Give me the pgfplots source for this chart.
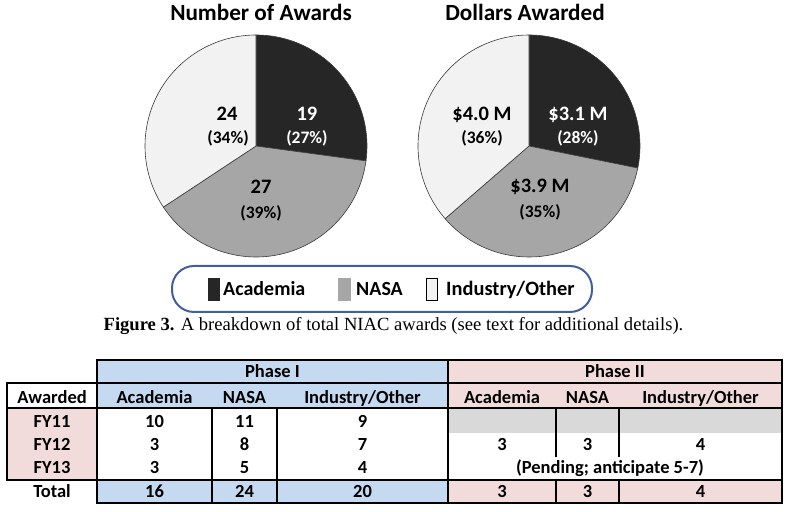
\documentclass[border=0pt]{standalone}
\usepackage{fontspec}
\setmainfont{Carlito}
\newfontfamily\capfont{Liberation Serif}
\usepackage{pgfplots}
\usepackage{pgfplotstable}
\pgfplotsset{compat=1.18}

\definecolor{acad}{HTML}{262626}
\definecolor{nasa}{HTML}{A6A6A6}
\definecolor{indu}{HTML}{F2F2F2}
\definecolor{pieedge}{HTML}{3A3A3A}
\definecolor{legedge}{HTML}{41609A}
\definecolor{phaseone}{HTML}{C5D9F1}
\definecolor{phasetwo}{HTML}{F2DCDB}
\definecolor{pendgray}{HTML}{D9D9D9}

% pie data
\pgfplotstableread{
name     value
Academia 19
NASA     27
Industry 24
}\awards
\pgfplotstableread{
name     value
Academia 3.1
NASA     3.9
Industry 4.0
}\dollars

% slice boundaries, clockwise from 12 o'clock
\newcommand\pieangles[1]{%
  \pgfplotstablegetelem{0}{value}\of#1\let\va\pgfplotsretval
  \pgfplotstablegetelem{1}{value}\of#1\let\vb\pgfplotsretval
  \pgfplotstablegetelem{2}{value}\of#1\let\vc\pgfplotsretval
  \pgfmathsetmacro\vt{\va+\vb+\vc}%
  \pgfmathsetmacro\angA{90-360*\va/\vt}%
  \pgfmathsetmacro\angB{\angA-360*\vb/\vt}%
}
\newcommand\drawpie{%
  \filldraw[acad,draw=pieedge,line width=0.6bp] (axis cs:0,0) -- ++(90:111bp)
    arc[start angle=90,end angle=\angA,radius=111bp] -- cycle;
  \filldraw[nasa,draw=pieedge,line width=0.6bp] (axis cs:0,0) -- ++(\angA:111bp)
    arc[start angle=\angA,end angle=\angB,radius=111bp] -- cycle;
  \filldraw[indu,draw=pieedge,line width=0.6bp] (axis cs:0,0) -- ++(\angB:111bp)
    arc[start angle=\angB,end angle=-270,radius=111bp] -- cycle;
}
\pgfplotsset{pie/.style={width=222bp,height=222bp,scale only axis,
  xmin=-1,xmax=1,ymin=-1,ymax=1,hide axis,clip=false,anchor=center}}

\newcommand\lblbig{\fontsize{20.5bp}{24bp}\selectfont\bfseries}
\newcommand\lblpct{\fontsize{17.5bp}{20bp}\selectfont\bfseries}
\newcommand\tabf{\fontsize{18.5bp}{20bp}\selectfont\bfseries}

\begin{document}
\begin{tikzpicture}

\pieangles{\awards}
\begin{axis}[pie,at={(256bp,366bp)}]
  \drawpie
  \node[anchor=base,text=white] at (axis cs:0.459,0.234) {\lblbig 19};
  \node[anchor=base,text=white] at (axis cs:0.459,0.018) {\lblpct (27\%)};
  \node[anchor=base] at (axis cs:-0.261,0.234) {\lblbig 24};
  \node[anchor=base] at (axis cs:-0.252,0.018) {\lblpct (34\%)};
  \node[anchor=base] at (axis cs:0.045,-0.432) {\lblbig 27};
  \node[anchor=base] at (axis cs:0.045,-0.649) {\lblpct (39\%)};
\end{axis}

\pieangles{\dollars}
\begin{axis}[pie,at={(529bp,366bp)}]
  \drawpie
  \node[anchor=base,text=white] at (axis cs:0.441,0.234) {\lblbig \$3.1 M};
  \node[anchor=base,text=white] at (axis cs:0.441,0.018) {\lblpct (28\%)};
  \node[anchor=base] at (axis cs:-0.423,0.234) {\lblbig \$4.0 M};
  \node[anchor=base] at (axis cs:-0.423,0.018) {\lblpct (36\%)};
  \node[anchor=base] at (axis cs:0.099,-0.423) {\lblbig \$3.9 M};
  \node[anchor=base] at (axis cs:0.099,-0.640) {\lblpct (35\%)};
\end{axis}

% everything below in pixel units, y downwards
\begin{scope}[x=1bp,y=-1bp,yshift=512bp]
  \node[anchor=base] at (261,21) {\fontsize{23.2bp}{26bp}\selectfont\bfseries Number of Awards};
  \node[anchor=base] at (525,21) {\fontsize{23.2bp}{26bp}\selectfont\bfseries Dollars Awarded};

  % legend
  \draw[legedge,line width=2bp,fill=white,rounded corners=22bp] (172,266) rectangle (592,312);
  \fill[acad] (208,278) rectangle (220,301);
  \node[anchor=base west,inner sep=0pt] at (223,296) {\fontsize{20bp}{24bp}\selectfont\bfseries Academia};
  \fill[nasa] (338,278) rectangle (351,301);
  \node[anchor=base west,inner sep=0pt] at (356,296) {\fontsize{20bp}{24bp}\selectfont\bfseries NASA};
  \filldraw[fill=indu,draw=black,line width=1bp] (426.5,278.5) rectangle (437.5,300.5);
  \node[anchor=base west,inner sep=0pt] at (446,296) {\fontsize{20.4bp}{24bp}\selectfont\bfseries Industry/Other};

  % caption
  \node[anchor=base] at (393.5,331)
    {\capfont\fontsize{18.6bp}{20bp}\selectfont\textbf{Figure 3.} A breakdown of total NIAC awards (see text for additional details).};

  % table fills
  \fill[phaseone] (97,360) rectangle (448,408);
  \fill[phaseone] (97,480) rectangle (448,503);
  \fill[phasetwo] (448,360) rectangle (782,408);
  \fill[phasetwo] (448,480) rectangle (782,503);
  \fill[phasetwo] (7,408) rectangle (97,480);
  \fill[pendgray] (448,408) rectangle (782,433);

  % table rules
  \begin{scope}[line width=2.2bp,line cap=rect]
    \draw (97,360) -- (782,360);
    \draw (7,383) -- (782,383);
    \draw (7,408) -- (782,408);
    \draw (7,480) -- (782,480);
    \draw (97,503) -- (782,503);
    \draw (7,383) -- (7,480);
    \draw (97,360) -- (97,503);
    \draw (448,360) -- (448,503);
    \draw (782,360) -- (782,503);
    \draw (212,408) -- (212,503);
    \draw (277,408) -- (277,503);
    \draw (556,408) -- (556,456);
    \draw (619,408) -- (619,456);
    \draw (556,480) -- (556,503);
    \draw (619,480) -- (619,503);
  \end{scope}

  % table text
  \node[anchor=base] at (272.5,378) {\tabf Phase I};
  \node[anchor=base] at (615,378) {\tabf Phase II};
  \foreach \x/\t in {52/Awarded,154.5/Academia,244.5/NASA,362.5/Industry\slash Other,
                     502/Academia,587.5/NASA,700.5/Industry\slash Other}
    \node[anchor=base] at (\x,404) {\tabf \t};
  \foreach \y/\a/\b/\c/\d in {428/FY11/10/11/9, 451/FY12/3/8/7, 474/FY13/3/5/4, 498/Total/16/24/20} {
    \node[anchor=base] at (52,\y) {\tabf \a};
    \node[anchor=base] at (154.5,\y) {\tabf \b};
    \node[anchor=base] at (244.5,\y) {\tabf \c};
    \node[anchor=base] at (362.5,\y) {\tabf \d};
  }
  \foreach \y/\b/\c/\d in {451/3/3/4, 498/3/3/4} {
    \node[anchor=base] at (502,\y) {\tabf \b};
    \node[anchor=base] at (587.5,\y) {\tabf \c};
    \node[anchor=base] at (700.5,\y) {\tabf \d};
  }
  \node[anchor=base] at (610,474) {\tabf (Pending; anticipate 5-7)};
\end{scope}

\pgfresetboundingbox
\useasboundingbox (0,0) rectangle (790bp,512bp);
\end{tikzpicture}
\end{document}
